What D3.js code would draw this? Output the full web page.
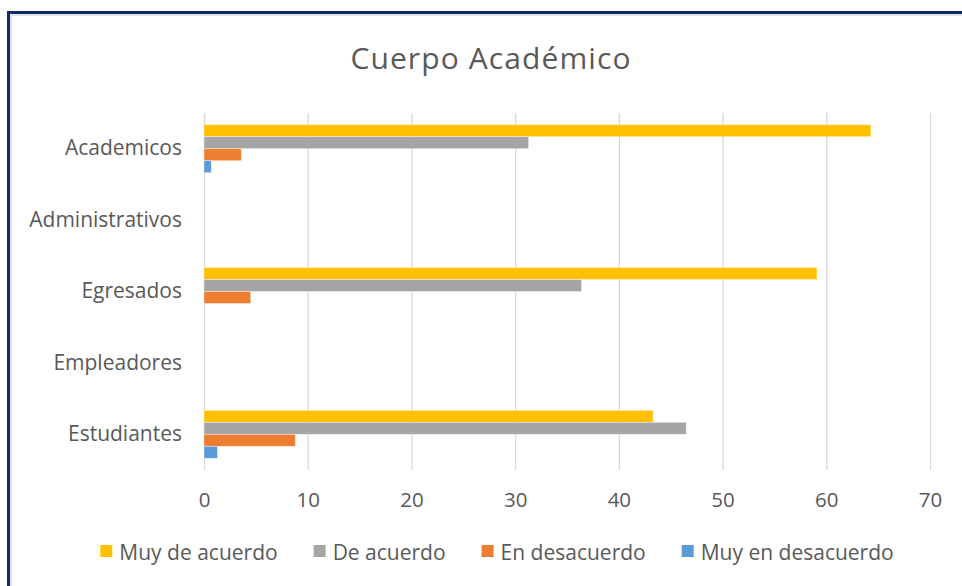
<!DOCTYPE html>
<html>
<head>
<meta charset="utf-8">
<script src="https://cdn.jsdelivr.net/npm/d3@7"></script>
<style>
  body { margin: 0; background: #fff; }
  svg { display: block; }
  text { font-family: "Open Sans", "Noto Sans", sans-serif; fill: #595959; }
</style>
</head>
<body>
<div id="chart"></div>
<script>
// Data (percent)
const categories = ['Academicos', 'Administrativos', 'Egresados', 'Empleadores', 'Estudiantes'];
const seriesNames = ['Muy de acuerdo', 'De acuerdo', 'En desacuerdo', 'Muy en desacuerdo'];
const muyDeAcuerdo = [64.3, null, 59.1, null, 43.3];
const deAcuerdo = [31.3, null, 36.4, null, 46.5];
const enDesacuerdo = [3.6, null, 4.5, null, 8.8];
const muyEnDesacuerdo = [0.7, null, null, null, 1.3];
const xTicks = [0, 10, 20, 30, 40, 50, 60, 70];
const colors = ['#FFC000', '#A5A5A5', '#ED7D31', '#5B9BD5'];

const seriesValues = [muyDeAcuerdo, deAcuerdo, enDesacuerdo, muyEnDesacuerdo];

const width = 962, height = 586;
const plot = { left: 204, right: 930, top: 113, bottom: 470 };

const svg = d3.select('#chart')
    .append('svg')
    .attr('width', width)
    .attr('height', height);

// Frame (navy border, continues past the right / bottom edge)
svg.append('rect')
    .attr('x', 8.5).attr('y', 12.5)
    .attr('width', 1000).attr('height', 700)
    .attr('fill', '#fff')
    .attr('stroke', '#0f2d6e')
    .attr('stroke-width', 3);
svg.append('rect')
    .attr('x', 11).attr('y', 15)
    .attr('width', 1000).attr('height', 700)
    .attr('fill', 'none')
    .attr('stroke', '#dcdcdc')
    .attr('stroke-width', 1.5);

// Title
svg.append('text')
    .attr('x', 491)
    .attr('y', 69)
    .attr('text-anchor', 'middle')
    .style('font-size', '30px')
    .style('letter-spacing', '1.1px')
    .text('Cuerpo Académico');

// Scales
const x = d3.scaleLinear()
    .domain([0, 70])
    .range([plot.left, plot.right]);

const y = d3.scaleBand()
    .domain(categories)
    .range([plot.top, plot.bottom])
    .paddingInner(0.328)
    .paddingOuter(0.164);

const ySub = d3.scaleBand()
    .domain(seriesNames)
    .range([0, y.bandwidth()]);

// Gridlines
svg.append('g')
    .attr('class', 'grid')
    .attr('transform', `translate(0,${plot.bottom})`)
    .call(d3.axisBottom(x).tickValues(xTicks).tickSize(-(plot.bottom - plot.top)).tickFormat(''))
    .call(g => g.select('.domain').remove())
    .call(g => g.selectAll('line').attr('stroke', '#d9d9d9').attr('stroke-width', 1.3));

// X axis labels
svg.append('g')
    .attr('class', 'x-axis')
    .attr('transform', `translate(0,${plot.bottom})`)
    .call(d3.axisBottom(x).tickValues(xTicks).tickSize(0).tickPadding(22))
    .call(g => g.select('.domain').remove())
    .call(g => g.selectAll('text')
        .attr('fill', '#595959')
        .style('font-size', '20.5px')
        .style('font-family', '"Open Sans", sans-serif'));

// Y axis labels
svg.append('g')
    .attr('class', 'y-axis')
    .attr('transform', `translate(${plot.left},0)`)
    .call(d3.axisLeft(y).tickSize(0).tickPadding(22))
    .call(g => g.select('.domain').remove())
    .call(g => g.selectAll('text')
        .attr('fill', '#595959')
        .style('font-size', '21px')
        .style('font-family', '"Open Sans", sans-serif'));

// Bars
seriesNames.forEach((name, si) => {
    const rows = categories
        .map((c, i) => ({ category: c, value: seriesValues[si][i] }))
        .filter(d => d.value != null);

    svg.append('g')
        .attr('class', 'series')
        .selectAll('rect')
        .data(rows)
        .enter()
        .append('rect')
        .attr('x', x(0))
        .attr('y', d => y(d.category) + ySub(name))
        .attr('width', d => x(d.value) - x(0))
        .attr('height', ySub.bandwidth())
        .attr('fill', colors[si])
        .attr('stroke', '#fff')
        .attr('stroke-opacity', 0.5)
        .attr('stroke-width', 0.75);
});

// Legend, centred under the plot
const legend = svg.append('g').attr('class', 'legend');
const items = legend.selectAll('g')
    .data(seriesNames)
    .enter()
    .append('g');

items.append('rect')
    .attr('width', 12)
    .attr('height', 12)
    .attr('y', -15)
    .attr('fill', (d, i) => colors[i]);

items.append('text')
    .attr('x', 19)
    .attr('y', 0)
    .style('font-size', '21px')
    .text(d => d);

let cursor = 0;
items.each(function () {
    const w = 19 + d3.select(this).select('text').node().getComputedTextLength();
    d3.select(this).attr('transform', `translate(${cursor},0)`);
    cursor += w + 36;
});
const legendWidth = cursor - 36;
legend.attr('transform', `translate(${497 - legendWidth / 2},560)`);
</script>
</body>
</html>
